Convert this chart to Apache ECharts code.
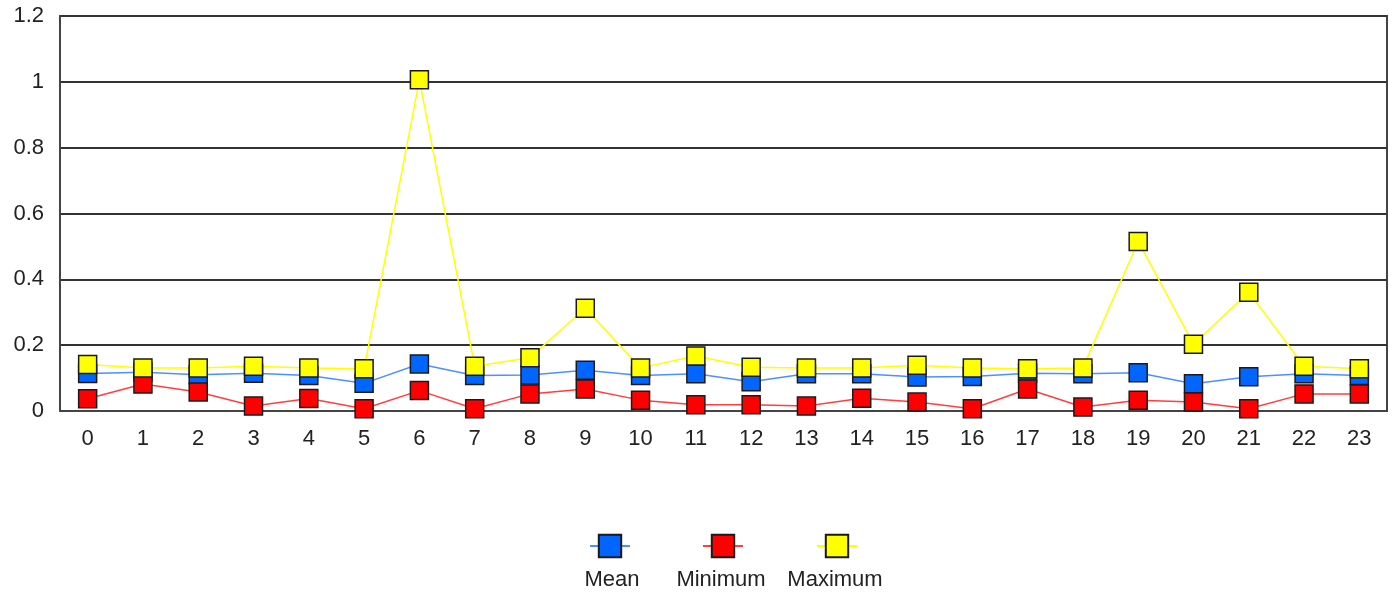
<!DOCTYPE html>
<html>
<head>
<meta charset="utf-8">
<script src="https://cdn.jsdelivr.net/npm/echarts@6/dist/echarts.min.js"></script>
<style>
html,body{margin:0;padding:0;background:#fff;}
#chart{width:1392px;height:596px;}
</style>
</head>
<body>
<div id="chart"></div>
<script>
var categories = ['0','1','2','3','4','5','6','7','8','9','10','11','12','13','14','15','16','17','18','19','20','21','22','23'];
var meanValues = [0.114,0.118,0.110,0.115,0.108,0.084,0.143,0.108,0.109,0.124,0.108,0.113,0.089,0.113,0.113,0.103,0.105,0.115,0.113,0.116,0.083,0.104,0.113,0.108];
var minValues = [0.037,0.082,0.058,0.015,0.038,0.007,0.062,0.007,0.052,0.067,0.033,0.019,0.019,0.015,0.039,0.027,0.007,0.067,0.012,0.033,0.027,0.007,0.052,0.052];
var maxValues = [0.141,0.131,0.131,0.136,0.131,0.128,1.006,0.136,0.162,0.312,0.131,0.167,0.133,0.131,0.131,0.139,0.131,0.128,0.131,0.515,0.203,0.361,0.136,0.128];
var seriesNames = ['Mean','Minimum','Maximum'];

var FONT = '"Liberation Sans", Arial, sans-serif';
var chart = echarts.init(document.getElementById('chart'), null, {renderer:'canvas'});

function mkSeries(name, data, lineColor, fillColor){
  return {
    name: name, type: 'line', data: data,
    symbol: 'rect', symbolSize: 18,
    showAllSymbol: true,
    lineStyle: {color: lineColor, width: 1.5},
    itemStyle: {color: fillColor, borderColor: '#1a1a1a', borderWidth: 1.5},
    emphasis: {disabled: true}
  };
}

function mkLegend(name, left){
  return {
    data: [name], left: left, top: 532, padding: 0,
    itemWidth: 40, itemHeight: 28, itemGap: 0,
    formatter: function(){ return ''; },
    selectedMode: false,
    textStyle: {fontSize: 1}
  };
}

var option = {
  animation: false,
  backgroundColor: '#fff',
  grid: {left: 60, right: 5, top: 16, bottom: 185, show: true, borderColor: '#444', borderWidth: 2, backgroundColor: '#fff'},
  legend: [mkLegend(seriesNames[0], 589), mkLegend(seriesNames[1], 702), mkLegend(seriesNames[2], 816)],
  xAxis: {
    type: 'category', data: categories, boundaryGap: true,
    axisLine: {show: true, lineStyle: {color: '#444', width: 2}},
    axisTick: {show: false},
    axisLabel: {color: '#222', fontSize: 22, fontFamily: FONT, margin: 17, interval: 0},
    splitLine: {show: false}
  },
  yAxis: {
    type: 'value', min: 0, max: 1.2, interval: 0.2,
    axisLine: {show: true, lineStyle: {color: '#444', width: 2}},
    axisTick: {show: false},
    axisLabel: {color: '#222', fontSize: 22, fontFamily: FONT, margin: 16},
    splitLine: {show: true, lineStyle: {color: '#333', width: 2}}
  },
  graphic: [
    {type: 'text', style: {text: seriesNames[0], x: 612, y: 580, align: 'center', verticalAlign: 'middle', font: '22px ' + FONT, fill: '#222'}},
    {type: 'text', style: {text: seriesNames[1], x: 721, y: 580, align: 'center', verticalAlign: 'middle', font: '22px ' + FONT, fill: '#222'}},
    {type: 'text', style: {text: seriesNames[2], x: 835, y: 580, align: 'center', verticalAlign: 'middle', font: '22px ' + FONT, fill: '#222'}}
  ],
  series: [
    mkSeries(seriesNames[0], meanValues, '#4d90ff', '#0066ff'),
    mkSeries(seriesNames[1], minValues, '#ff4040', '#ff0000'),
    mkSeries(seriesNames[2], maxValues, '#ffff00', '#ffff00')
  ]
};
chart.setOption(option);
</script>
</body>
</html>
